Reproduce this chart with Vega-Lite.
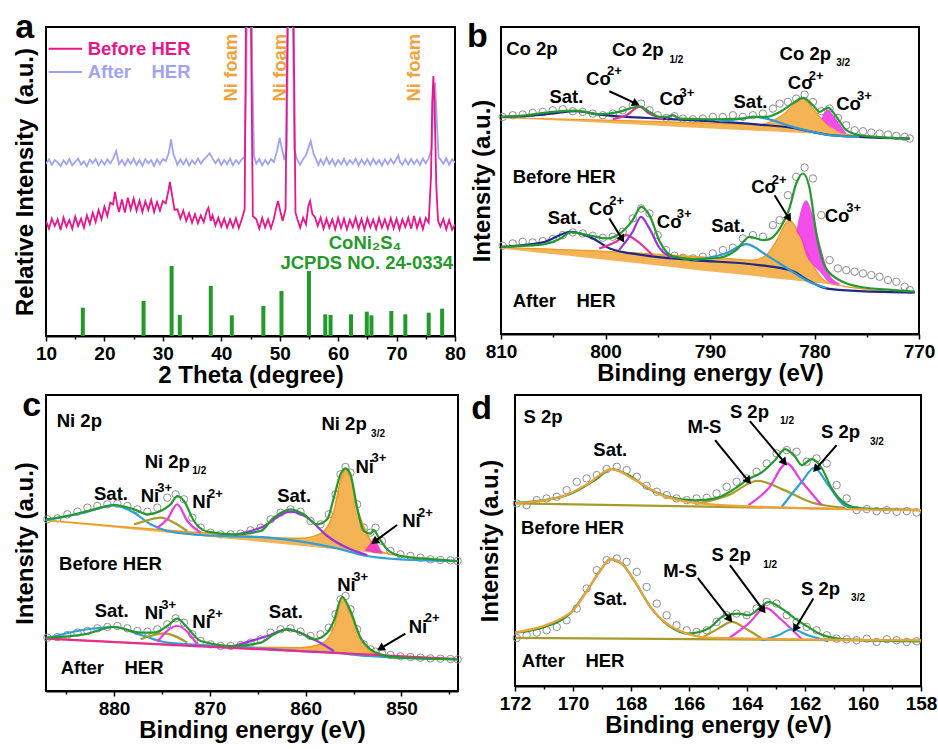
{
"$schema":"https://vega.github.io/schema/vega-lite/v6.json",
"background":"white",
"padding":{"left":12,"top":9,"right":0,"bottom":0},
"config":{"font":"Liberation Sans","view":{"stroke":"black","strokeWidth":2},
"axis":{"labelFont":"Liberation Sans","titleFont":"Liberation Sans","labelFontWeight":"bold","titleFontWeight":"bold","labelFontSize":19,"titleFontSize":24,"labelColor":"black","titleColor":"black","domainColor":"black","domainWidth":2,"tickColor":"black","tickWidth":1.5,"grid":false,"labelFlush":false,"labelOverlap":false,"labelPadding":3,"titlePadding":0},
"text":{"font":"Liberation Sans","fontWeight":"bold","fontSize":18.5,"color":"black"}},
"datasets":{
"xrd":[
{"x":10,"y":517,"s":"A"},{"x":10.5,"y":530,"s":"A"},{"x":11,"y":513,"s":"A"},{"x":11.5,"y":528,"s":"A"},{"x":12,"y":521,"s":"A"},{"x":12.5,"y":510,"s":"A"},{"x":13,"y":527,"s":"A"},{"x":13.5,"y":515,"s":"A"},{"x":14,"y":531,"s":"A"},{"x":14.5,"y":512,"s":"A"},{"x":15,"y":522,"s":"A"},{"x":15.5,"y":532,"s":"A"},{"x":16,"y":514,"s":"A"},{"x":16.5,"y":524,"s":"A"},{"x":17,"y":509,"s":"A"},{"x":17.5,"y":529,"s":"A"},{"x":18,"y":518,"s":"A"},{"x":18.5,"y":531,"s":"A"},{"x":19,"y":512,"s":"A"},{"x":19.5,"y":527,"s":"A"},{"x":20,"y":514,"s":"A"},{"x":20.5,"y":530,"s":"A"},{"x":21,"y":518,"s":"A"},{"x":21.5,"y":532,"s":"A"},{"x":22,"y":555,"s":"A"},{"x":22.3,"y":533,"s":"A"},{"x":22.5,"y":516,"s":"A"},{"x":23,"y":528,"s":"A"},{"x":23.5,"y":512,"s":"A"},{"x":24,"y":530,"s":"A"},{"x":24.5,"y":516,"s":"A"},{"x":25,"y":532,"s":"A"},{"x":25.5,"y":513,"s":"A"},{"x":26,"y":528,"s":"A"},{"x":26.5,"y":511,"s":"A"},{"x":27,"y":531,"s":"A"},{"x":27.5,"y":518,"s":"A"},{"x":28,"y":528,"s":"A"},{"x":28.5,"y":510,"s":"A"},{"x":29,"y":530,"s":"A"},{"x":29.5,"y":516,"s":"A"},{"x":30,"y":531,"s":"A"},{"x":30.5,"y":525,"s":"A"},{"x":31,"y":548,"s":"A"},{"x":31.4,"y":590,"s":"A"},{"x":31.8,"y":545,"s":"A"},{"x":32.2,"y":528,"s":"A"},{"x":32.5,"y":513,"s":"A"},{"x":33,"y":530,"s":"A"},{"x":33.5,"y":515,"s":"A"},{"x":34,"y":531,"s":"A"},{"x":34.5,"y":511,"s":"A"},{"x":35,"y":527,"s":"A"},{"x":35.5,"y":516,"s":"A"},{"x":36,"y":532,"s":"A"},{"x":36.5,"y":517,"s":"A"},{"x":37,"y":529,"s":"A"},{"x":37.5,"y":538,"s":"A"},{"x":38,"y":548,"s":"A"},{"x":38.5,"y":533,"s":"A"},{"x":39,"y":518,"s":"A"},{"x":39.5,"y":531,"s":"A"},{"x":40,"y":513,"s":"A"},{"x":40.5,"y":528,"s":"A"},{"x":41,"y":515,"s":"A"},{"x":41.5,"y":532,"s":"A"},{"x":42,"y":512,"s":"A"},{"x":42.5,"y":528,"s":"A"},{"x":43,"y":517,"s":"A"},{"x":43.5,"y":530,"s":"A"},{"x":44,"y":538,"s":"A"},{"x":44.3,"y":800,"s":"A"},{"x":44.6,"y":1500,"s":"A"},{"x":45,"y":1500,"s":"A"},{"x":45.3,"y":800,"s":"A"},{"x":45.6,"y":540,"s":"A"},{"x":46,"y":517,"s":"A"},{"x":46.5,"y":531,"s":"A"},{"x":47,"y":512,"s":"A"},{"x":47.5,"y":528,"s":"A"},{"x":48,"y":515,"s":"A"},{"x":48.5,"y":531,"s":"A"},{"x":49,"y":522,"s":"A"},{"x":49.5,"y":552,"s":"A"},{"x":50,"y":594,"s":"A"},{"x":50.4,"y":560,"s":"A"},{"x":50.8,"y":528,"s":"A"},{"x":51.2,"y":562,"s":"A"},{"x":51.5,"y":1000,"s":"A"},{"x":51.9,"y":1500,"s":"A"},{"x":52.2,"y":1000,"s":"A"},{"x":52.5,"y":560,"s":"A"},{"x":53,"y":528,"s":"A"},{"x":53.5,"y":514,"s":"A"},{"x":54,"y":531,"s":"A"},{"x":54.5,"y":542,"s":"A"},{"x":55.3,"y":585,"s":"A"},{"x":55.8,"y":546,"s":"A"},{"x":56.3,"y":527,"s":"A"},{"x":56.6,"y":513,"s":"A"},{"x":57,"y":530,"s":"A"},{"x":57.5,"y":514,"s":"A"},{"x":58,"y":535,"s":"A"},{"x":58.5,"y":516,"s":"A"},{"x":59,"y":530,"s":"A"},{"x":59.5,"y":511,"s":"A"},{"x":60,"y":528,"s":"A"},{"x":60.5,"y":515,"s":"A"},{"x":61,"y":531,"s":"A"},{"x":61.5,"y":513,"s":"A"},{"x":62,"y":527,"s":"A"},{"x":62.5,"y":517,"s":"A"},{"x":63,"y":532,"s":"A"},{"x":63.5,"y":512,"s":"A"},{"x":64,"y":529,"s":"A"},{"x":64.5,"y":515,"s":"A"},{"x":65,"y":530,"s":"A"},{"x":65.5,"y":513,"s":"A"},{"x":66,"y":531,"s":"A"},{"x":66.5,"y":516,"s":"A"},{"x":67,"y":528,"s":"A"},{"x":67.5,"y":511,"s":"A"},{"x":68,"y":530,"s":"A"},{"x":68.5,"y":515,"s":"A"},{"x":69,"y":531,"s":"A"},{"x":69.5,"y":517,"s":"A"},{"x":70,"y":532,"s":"A"},{"x":70.3,"y":542,"s":"A"},{"x":70.6,"y":521,"s":"A"},{"x":71,"y":513,"s":"A"},{"x":71.5,"y":530,"s":"A"},{"x":72,"y":515,"s":"A"},{"x":72.5,"y":531,"s":"A"},{"x":73,"y":516,"s":"A"},{"x":73.5,"y":529,"s":"A"},{"x":74,"y":513,"s":"A"},{"x":74.5,"y":532,"s":"A"},{"x":75,"y":518,"s":"A"},{"x":75.5,"y":533,"s":"A"},{"x":76,"y":560,"s":"A"},{"x":76.3,"y":700,"s":"A"},{"x":76.6,"y":760,"s":"A"},{"x":76.9,"y":640,"s":"A"},{"x":77.2,"y":535,"s":"A"},{"x":77.5,"y":530,"s":"A"},{"x":78,"y":516,"s":"A"},{"x":78.5,"y":533,"s":"A"},{"x":79,"y":514,"s":"A"},{"x":79.5,"y":530,"s":"A"},{"x":80,"y":520,"s":"A"},
{"x":10,"y":345,"s":"B"},{"x":10.5,"y":322,"s":"B"},{"x":11,"y":352,"s":"B"},{"x":11.5,"y":330,"s":"B"},{"x":12,"y":350,"s":"B"},{"x":12.5,"y":318,"s":"B"},{"x":13,"y":355,"s":"B"},{"x":13.5,"y":328,"s":"B"},{"x":14,"y":348,"s":"B"},{"x":14.5,"y":322,"s":"B"},{"x":15,"y":358,"s":"B"},{"x":15.5,"y":330,"s":"B"},{"x":16,"y":352,"s":"B"},{"x":16.5,"y":325,"s":"B"},{"x":17,"y":362,"s":"B"},{"x":17.5,"y":336,"s":"B"},{"x":18,"y":370,"s":"B"},{"x":18.5,"y":342,"s":"B"},{"x":19,"y":378,"s":"B"},{"x":19.5,"y":350,"s":"B"},{"x":20,"y":388,"s":"B"},{"x":20.5,"y":360,"s":"B"},{"x":21,"y":400,"s":"B"},{"x":21.5,"y":395,"s":"B"},{"x":21.8,"y":432,"s":"B"},{"x":22.2,"y":392,"s":"B"},{"x":22.5,"y":372,"s":"B"},{"x":23,"y":410,"s":"B"},{"x":23.5,"y":370,"s":"B"},{"x":24,"y":415,"s":"B"},{"x":24.5,"y":380,"s":"B"},{"x":25,"y":412,"s":"B"},{"x":25.5,"y":376,"s":"B"},{"x":26,"y":406,"s":"B"},{"x":26.5,"y":372,"s":"B"},{"x":27,"y":404,"s":"B"},{"x":27.5,"y":378,"s":"B"},{"x":28,"y":408,"s":"B"},{"x":28.5,"y":372,"s":"B"},{"x":29,"y":402,"s":"B"},{"x":29.5,"y":376,"s":"B"},{"x":30,"y":405,"s":"B"},{"x":30.5,"y":398,"s":"B"},{"x":31,"y":440,"s":"B"},{"x":31.2,"y":462,"s":"B"},{"x":31.6,"y":420,"s":"B"},{"x":32,"y":378,"s":"B"},{"x":32.5,"y":380,"s":"B"},{"x":33,"y":352,"s":"B"},{"x":33.5,"y":376,"s":"B"},{"x":34,"y":345,"s":"B"},{"x":34.5,"y":368,"s":"B"},{"x":35,"y":340,"s":"B"},{"x":35.5,"y":365,"s":"B"},{"x":36,"y":338,"s":"B"},{"x":36.5,"y":362,"s":"B"},{"x":37,"y":342,"s":"B"},{"x":37.5,"y":375,"s":"B"},{"x":37.8,"y":385,"s":"B"},{"x":38.2,"y":345,"s":"B"},{"x":38.5,"y":362,"s":"B"},{"x":39,"y":332,"s":"B"},{"x":39.5,"y":355,"s":"B"},{"x":40,"y":328,"s":"B"},{"x":40.5,"y":352,"s":"B"},{"x":41,"y":325,"s":"B"},{"x":41.5,"y":350,"s":"B"},{"x":42,"y":326,"s":"B"},{"x":42.5,"y":353,"s":"B"},{"x":43,"y":324,"s":"B"},{"x":43.5,"y":350,"s":"B"},{"x":44,"y":380,"s":"B"},{"x":44.2,"y":900,"s":"B"},{"x":44.5,"y":1500,"s":"B"},{"x":44.8,"y":1500,"s":"B"},{"x":45.1,"y":900,"s":"B"},{"x":45.4,"y":360,"s":"B"},{"x":46,"y":350,"s":"B"},{"x":46.5,"y":322,"s":"B"},{"x":47,"y":354,"s":"B"},{"x":47.5,"y":326,"s":"B"},{"x":48,"y":350,"s":"B"},{"x":48.5,"y":323,"s":"B"},{"x":49,"y":352,"s":"B"},{"x":49.4,"y":385,"s":"B"},{"x":49.7,"y":405,"s":"B"},{"x":50.1,"y":375,"s":"B"},{"x":50.5,"y":345,"s":"B"},{"x":51,"y":380,"s":"B"},{"x":51.3,"y":900,"s":"B"},{"x":51.7,"y":1500,"s":"B"},{"x":52.1,"y":1500,"s":"B"},{"x":52.4,"y":900,"s":"B"},{"x":52.7,"y":370,"s":"B"},{"x":53,"y":352,"s":"B"},{"x":53.5,"y":325,"s":"B"},{"x":54,"y":355,"s":"B"},{"x":54.5,"y":335,"s":"B"},{"x":54.9,"y":390,"s":"B"},{"x":55.2,"y":405,"s":"B"},{"x":55.6,"y":365,"s":"B"},{"x":56,"y":358,"s":"B"},{"x":56.5,"y":330,"s":"B"},{"x":57,"y":355,"s":"B"},{"x":57.5,"y":322,"s":"B"},{"x":58,"y":352,"s":"B"},{"x":58.5,"y":325,"s":"B"},{"x":59,"y":350,"s":"B"},{"x":59.5,"y":320,"s":"B"},{"x":60,"y":354,"s":"B"},{"x":60.5,"y":324,"s":"B"},{"x":61,"y":352,"s":"B"},{"x":61.5,"y":320,"s":"B"},{"x":62,"y":348,"s":"B"},{"x":62.5,"y":327,"s":"B"},{"x":63,"y":355,"s":"B"},{"x":63.5,"y":322,"s":"B"},{"x":64,"y":351,"s":"B"},{"x":64.5,"y":319,"s":"B"},{"x":65,"y":353,"s":"B"},{"x":65.5,"y":326,"s":"B"},{"x":66,"y":349,"s":"B"},{"x":66.5,"y":321,"s":"B"},{"x":67,"y":354,"s":"B"},{"x":67.5,"y":325,"s":"B"},{"x":68,"y":350,"s":"B"},{"x":68.5,"y":322,"s":"B"},{"x":69,"y":353,"s":"B"},{"x":69.5,"y":323,"s":"B"},{"x":70,"y":352,"s":"B"},{"x":70.5,"y":320,"s":"B"},{"x":71,"y":350,"s":"B"},{"x":71.5,"y":327,"s":"B"},{"x":72,"y":355,"s":"B"},{"x":72.5,"y":322,"s":"B"},{"x":73,"y":360,"s":"B"},{"x":73.5,"y":324,"s":"B"},{"x":74,"y":352,"s":"B"},{"x":74.5,"y":321,"s":"B"},{"x":75,"y":354,"s":"B"},{"x":75.5,"y":340,"s":"B"},{"x":75.9,"y":480,"s":"B"},{"x":76.1,"y":700,"s":"B"},{"x":76.3,"y":780,"s":"B"},{"x":76.5,"y":700,"s":"B"},{"x":76.8,"y":450,"s":"B"},{"x":77.1,"y":345,"s":"B"},{"x":77.5,"y":328,"s":"B"},{"x":78,"y":351,"s":"B"},{"x":78.5,"y":320,"s":"B"},{"x":79,"y":348,"s":"B"},{"x":79.5,"y":319,"s":"B"},{"x":80,"y":335,"s":"B"}
],
"bars":[{"x":16.3,"y":85},{"x":26.7,"y":105},{"x":31.5,"y":210},{"x":32.9,"y":63},{"x":38.2,"y":150},{"x":41.8,"y":62},{"x":47.2,"y":90},{"x":50.3,"y":135},{"x":55.0,"y":195},{"x":57.8,"y":65},{"x":58.7,"y":63},{"x":62.2,"y":65},{"x":64.9,"y":73},{"x":65.7,"y":62},{"x":69.1,"y":75},{"x":71.5,"y":65},{"x":75.5,"y":70},{"x":77.8,"y":82}],
"b_pts":[
{"x":809.84,"y":655},{"x":808.88,"y":660},{"x":807.92,"y":662},{"x":806.97,"y":667},{"x":806.01,"y":670},{"x":805.05,"y":675},{"x":804.09,"y":678},{"x":803.13,"y":672},{"x":802.18,"y":670},{"x":801.22,"y":665},{"x":800.26,"y":660},{"x":799.31,"y":665},{"x":798.35,"y":675},{"x":797.39,"y":690},{"x":796.59,"y":695},{"x":795.79,"y":675},{"x":795.0,"y":660},{"x":794.2,"y":652},{"x":793.4,"y":657},{"x":792.6,"y":650},{"x":791.64,"y":648},{"x":790.69,"y":650},{"x":789.73,"y":655},{"x":788.77,"y":655},{"x":787.81,"y":660},{"x":786.86,"y":655},{"x":785.9,"y":660},{"x":784.94,"y":665},{"x":783.98,"y":680},{"x":783.34,"y":695},{"x":782.55,"y":700},{"x":781.75,"y":710},{"x":780.95,"y":722},{"x":780.15,"y":700},{"x":779.35,"y":672},{"x":778.56,"y":680},{"x":777.76,"y":652},{"x":776.96,"y":630},{"x":776.16,"y":615},{"x":775.36,"y":612},{"x":774.56,"y":608},{"x":773.77,"y":605},{"x":772.97,"y":602},{"x":772.17,"y":598},{"x":771.37,"y":595},{"x":770.89,"y":590},
{"x":809.84,"y":268},{"x":808.88,"y":275},{"x":807.92,"y":280},{"x":806.97,"y":278},{"x":806.01,"y":282},{"x":805.05,"y":288},{"x":804.09,"y":300},{"x":803.13,"y":308},{"x":802.18,"y":305},{"x":801.22,"y":298},{"x":800.26,"y":292},{"x":799.31,"y":295},{"x":798.35,"y":310},{"x":797.39,"y":350},{"x":796.59,"y":380},{"x":795.79,"y":365},{"x":795.0,"y":300},{"x":794.2,"y":255},{"x":793.4,"y":238},{"x":792.6,"y":232},{"x":791.64,"y":230},{"x":790.69,"y":235},{"x":789.73,"y":245},{"x":788.77,"y":255},{"x":787.81,"y":262},{"x":786.86,"y":290},{"x":785.9,"y":300},{"x":784.94,"y":295},{"x":783.98,"y":330},{"x":783.34,"y":345},{"x":782.55,"y":420},{"x":781.75,"y":475},{"x":780.95,"y":503},{"x":780.15,"y":470},{"x":779.35,"y":360},{"x":778.56,"y":225},{"x":777.76,"y":200},{"x":776.96,"y":195},{"x":776.16,"y":190},{"x":775.36,"y":185},{"x":774.56,"y":180},{"x":773.77,"y":175},{"x":772.97,"y":165},{"x":772.17,"y":160},{"x":771.37,"y":145},{"x":770.89,"y":135}
],
"b_orange":[
{"x":810,"y":653,"y2":653,"s":"t"},{"x":798.0,"y":644,"y2":634,"s":"t"},{"x":788.5,"y":635,"y2":618,"s":"t"},{"x":785.3,"y":632,"y2":613,"s":"t"},{"x":783.7,"y":648,"y2":611,"s":"t"},{"x":782.7,"y":670,"y2":609,"s":"t"},{"x":782.1,"y":688,"y2":608,"s":"t"},{"x":781.1,"y":710,"y2":606.5,"s":"t"},{"x":780.15,"y":680,"y2":605,"s":"t"},{"x":779.35,"y":650,"y2":604,"s":"t"},{"x":778.56,"y":625,"y2":602,"s":"t"},{"x":777.3,"y":605,"y2":600,"s":"t"},{"x":775.7,"y":598,"y2":598,"s":"t"},{"x":770.9,"y":590,"y2":590,"s":"t"},
{"x":810,"y":263,"y2":260,"s":"b"},{"x":798.0,"y":248,"y2":219,"s":"b"},{"x":788.5,"y":230,"y2":186,"s":"b"},{"x":785.9,"y":225,"y2":178,"s":"b"},{"x":784.6,"y":240,"y2":173,"s":"b"},{"x":783.7,"y":280,"y2":170,"s":"b"},{"x":782.4,"y":345,"y2":166,"s":"b"},{"x":781.4,"y":300,"y2":162,"s":"b"},{"x":780.15,"y":210,"y2":158,"s":"b"},{"x":778.9,"y":160,"y2":154,"s":"b"},{"x":777.3,"y":147,"y2":147,"s":"b"},{"x":770.4,"y":127,"y2":125,"s":"b"}
],
"b_mag":[
{"x":779.35,"y":650,"y2":650,"s":"t"},{"x":779.0,"y":670,"y2":638,"s":"t"},{"x":778.7,"y":678,"y2":630,"s":"t"},{"x":778.2,"y":660,"y2":620,"s":"t"},{"x":777.5,"y":630,"y2":608,"s":"t"},{"x":776.95,"y":605,"y2":603,"s":"t"},
{"x":781.75,"y":310,"y2":310,"s":"b"},{"x":781.25,"y":380,"y2":285,"s":"b"},{"x":780.8,"y":405,"y2":240,"s":"b"},{"x":780.15,"y":360,"y2":210,"s":"b"},{"x":779.35,"y":260,"y2":185,"s":"b"},{"x":778.6,"y":185,"y2":158,"s":"b"},{"x":777.6,"y":155,"y2":150,"s":"b"}
],
"b_lines":[
{"x":810,"y":655,"c":"bg","s":"t"},{"x":806.0,"y":662,"c":"bg","s":"t"},{"x":804.4,"y":668,"c":"bg","s":"t"},{"x":802.8,"y":672,"c":"bg","s":"t"},{"x":800.6,"y":662,"c":"bg","s":"t"},{"x":798.0,"y":655,"c":"bg","s":"t"},{"x":794.8,"y":650,"c":"bg","s":"t"},{"x":790.0,"y":642,"c":"bg","s":"t"},{"x":785.3,"y":632,"c":"bg","s":"t"},{"x":782.1,"y":622,"c":"bg","s":"t"},{"x":780.5,"y":612,"c":"bg","s":"t"},{"x":778.9,"y":602,"c":"bg","s":"t"},{"x":775.7,"y":595,"c":"bg","s":"t"},{"x":770.9,"y":590,"c":"bg","s":"t"},
{"x":799.3,"y":648,"c":"pink","s":"t"},{"x":798.0,"y":660,"c":"pink","s":"t"},{"x":796.75,"y":685,"c":"pink","s":"t"},{"x":795.8,"y":665,"c":"pink","s":"t"},{"x":794.5,"y":648,"c":"pink","s":"t"},
{"x":794.2,"y":648,"c":"purple","s":"t"},{"x":793.6,"y":660,"c":"purple","s":"t"},{"x":792.9,"y":648,"c":"purple","s":"t"},
{"x":789.1,"y":642,"c":"blue","s":"t"},{"x":786.9,"y":650,"c":"blue","s":"t"},{"x":785.9,"y":655,"c":"blue","s":"t"},{"x":784.6,"y":650,"c":"blue","s":"t"},{"x":782.1,"y":625,"c":"blue","s":"t"},{"x":778.9,"y":602,"c":"blue","s":"t"},{"x":775.7,"y":595,"c":"blue","s":"t"},
{"x":810,"y":655,"c":"env","s":"t"},{"x":807.6,"y":660,"c":"env","s":"t"},{"x":805.05,"y":670,"c":"env","s":"t"},{"x":802.8,"y":674,"c":"env","s":"t"},{"x":800.6,"y":663,"c":"env","s":"t"},{"x":798.7,"y":670,"c":"env","s":"t"},{"x":797.7,"y":680,"c":"env","s":"t"},{"x":796.75,"y":687,"c":"env","s":"t"},{"x":795.8,"y":670,"c":"env","s":"t"},{"x":794.8,"y":655,"c":"env","s":"t"},{"x":794.0,"y":655,"c":"env","s":"t"},{"x":793.6,"y":660,"c":"env","s":"t"},{"x":792.9,"y":650,"c":"env","s":"t"},{"x":790.0,"y":648,"c":"env","s":"t"},{"x":786.9,"y":650,"c":"env","s":"t"},{"x":785.9,"y":655,"c":"env","s":"t"},{"x":784.6,"y":655,"c":"env","s":"t"},{"x":783.3,"y":670,"c":"env","s":"t"},{"x":782.1,"y":695,"c":"env","s":"t"},{"x":781.1,"y":712,"c":"env","s":"t"},{"x":780.15,"y":690,"c":"env","s":"t"},{"x":779.5,"y":670,"c":"env","s":"t"},{"x":778.7,"y":683,"c":"env","s":"t"},{"x":777.9,"y":655,"c":"env","s":"t"},{"x":776.95,"y":615,"c":"env","s":"t"},{"x":775.7,"y":600,"c":"env","s":"t"},{"x":774.1,"y":595,"c":"env","s":"t"},{"x":770.9,"y":590,"c":"env","s":"t"},
{"x":810,"y":265,"c":"bg","s":"b"},{"x":806.0,"y":278,"c":"bg","s":"b"},{"x":803.3,"y":310,"c":"bg","s":"b"},{"x":801.2,"y":290,"c":"bg","s":"b"},{"x":799.6,"y":260,"c":"bg","s":"b"},{"x":796.4,"y":240,"c":"bg","s":"b"},{"x":791.6,"y":225,"c":"bg","s":"b"},{"x":785.3,"y":210,"c":"bg","s":"b"},{"x":782.1,"y":192,"c":"bg","s":"b"},{"x":780.5,"y":162,"c":"bg","s":"b"},{"x":778.9,"y":140,"c":"bg","s":"b"},{"x":775.7,"y":132,"c":"bg","s":"b"},{"x":770.4,"y":128,"c":"bg","s":"b"},
{"x":800.6,"y":260,"c":"pink","s":"b"},{"x":799.0,"y":280,"c":"pink","s":"b"},{"x":798.0,"y":300,"c":"pink","s":"b"},{"x":797.1,"y":285,"c":"pink","s":"b"},{"x":795.5,"y":240,"c":"pink","s":"b"},
{"x":798.7,"y":255,"c":"purple","s":"b"},{"x":797.4,"y":310,"c":"purple","s":"b"},{"x":796.6,"y":355,"c":"purple","s":"b"},{"x":795.8,"y":320,"c":"purple","s":"b"},{"x":794.8,"y":260,"c":"purple","s":"b"},{"x":793.6,"y":232,"c":"purple","s":"b"},
{"x":791.6,"y":225,"c":"blue","s":"b"},{"x":788.5,"y":245,"c":"blue","s":"b"},{"x":786.5,"y":273,"c":"blue","s":"b"},{"x":784.6,"y":240,"c":"blue","s":"b"},{"x":782.1,"y":190,"c":"blue","s":"b"},{"x":780.5,"y":160,"c":"blue","s":"b"},{"x":778.9,"y":142,"c":"blue","s":"b"},
{"x":810,"y":265,"c":"env","s":"b"},{"x":806.0,"y":272,"c":"env","s":"b"},{"x":804.4,"y":288,"c":"env","s":"b"},{"x":803.3,"y":308,"c":"env","s":"b"},{"x":801.2,"y":297,"c":"env","s":"b"},{"x":799.9,"y":290,"c":"env","s":"b"},{"x":798.7,"y":303,"c":"env","s":"b"},{"x":797.4,"y":345,"c":"env","s":"b"},{"x":796.6,"y":385,"c":"env","s":"b"},{"x":795.8,"y":360,"c":"env","s":"b"},{"x":794.8,"y":280,"c":"env","s":"b"},{"x":793.6,"y":237,"c":"env","s":"b"},{"x":791.6,"y":228,"c":"env","s":"b"},{"x":789.1,"y":232,"c":"env","s":"b"},{"x":787.5,"y":255,"c":"env","s":"b"},{"x":786.2,"y":295,"c":"env","s":"b"},{"x":784.9,"y":285,"c":"env","s":"b"},{"x":784.3,"y":288,"c":"env","s":"b"},{"x":783.3,"y":320,"c":"env","s":"b"},{"x":782.4,"y":380,"c":"env","s":"b"},{"x":781.75,"y":455,"c":"env","s":"b"},{"x":781.1,"y":485,"c":"env","s":"b"},{"x":780.5,"y":445,"c":"env","s":"b"},{"x":779.8,"y":300,"c":"env","s":"b"},{"x":778.9,"y":200,"c":"env","s":"b"},{"x":777.3,"y":160,"c":"env","s":"b"},{"x":775.7,"y":145,"c":"env","s":"b"},{"x":772.5,"y":135,"c":"env","s":"b"},{"x":770.4,"y":130,"c":"env","s":"b"}
],
"b_txt":[{"x":809.5,"y":860,"t":"Co 2p"},{"x":799.37,"y":855,"t":"Co 2p"},{"x":783.34,"y":845,"t":"Co 2p"},{"x":801.86,"y":770,"t":"Co"},{"x":805.37,"y":715,"t":"Sat."},{"x":794.84,"y":708,"t":"Co"},{"x":787.75,"y":700,"t":"Sat."},{"x":782.55,"y":757,"t":"Co"},{"x":777.92,"y":695,"t":"Co"},{"x":808.88,"y":475,"t":"Before HER"},{"x":805.53,"y":350,"t":"Sat."},{"x":801.6,"y":378,"t":"Co"},{"x":795.09,"y":340,"t":"Co"},{"x":789.89,"y":328,"t":"Sat."},{"x":786.06,"y":445,"t":"Co"},{"x":779.03,"y":358,"t":"Co"},{"x":808.88,"y":103,"t":"After\u00a0\u00a0\u00a0\u00a0HER"}],
"b_sup":[{"x":799.85,"y":792,"t":"2+"},{"x":792.92,"y":728,"t":"3+"},{"x":780.54,"y":778,"t":"2+"},{"x":775.94,"y":717,"t":"3+"},{"x":799.63,"y":402,"t":"2+"},{"x":793.18,"y":363,"t":"3+"},{"x":784.08,"y":467,"t":"2+"},{"x":776.96,"y":380,"t":"3+"}],
"b_sub":[{"x":793.88,"y":825,"t":"1/2"},{"x":777.92,"y":817,"t":"3/2"}],
"b_arr":[{"x":799.63,"y":732,"x2":797.07,"y2":695},{"x":799.63,"y":350,"x2":798.41,"y2":288},{"x":783.82,"y":420,"x2":782.45,"y2":350}],
"b_head":[{"x":797.07,"y":695,"dir":114.8},{"x":798.41,"y":288,"dir":148.5},{"x":782.45,"y":350,"dir":148.4}],
"c_pts":[
{"x":886.95,"y":585},{"x":885.91,"y":588},{"x":884.87,"y":600},{"x":883.82,"y":608},{"x":882.78,"y":620},{"x":881.74,"y":625},{"x":880.70,"y":630},{"x":879.65,"y":632},{"x":878.61,"y":625},{"x":877.57,"y":615},{"x":876.52,"y":608},{"x":875.48,"y":620},{"x":874.44,"y":650},{"x":873.57,"y":660},{"x":872.70,"y":645},{"x":871.83,"y":590},{"x":870.96,"y":560},{"x":869.92,"y":545},{"x":868.88,"y":540},{"x":867.83,"y":540},{"x":866.79,"y":542},{"x":865.75,"y":552},{"x":864.71,"y":560},{"x":863.66,"y":585},{"x":862.62,"y":605},{"x":861.58,"y":615},{"x":860.54,"y":608},{"x":859.49,"y":580},{"x":858.45,"y":570},{"x":857.58,"y":600},{"x":856.89,"y":660},{"x":856.36,"y":720},{"x":855.84,"y":742},{"x":855.32,"y":725},{"x":854.63,"y":630},{"x":853.93,"y":560},{"x":853.24,"y":545},{"x":852.71,"y":560},{"x":852.02,"y":520},{"x":851.15,"y":490},{"x":850.11,"y":480},{"x":849.07,"y":475},{"x":848.02,"y":470},{"x":846.98,"y":465},{"x":845.94,"y":463},{"x":844.89,"y":462},{"x":844.13,"y":460},
{"x":886.95,"y":230},{"x":885.91,"y":232},{"x":884.87,"y":238},{"x":883.82,"y":245},{"x":882.78,"y":250},{"x":881.74,"y":258},{"x":880.70,"y":262},{"x":879.65,"y":265},{"x":878.61,"y":258},{"x":877.57,"y":250},{"x":876.52,"y":248},{"x":875.48,"y":255},{"x":874.44,"y":270},{"x":873.57,"y":288},{"x":872.70,"y":275},{"x":871.83,"y":240},{"x":870.96,"y":220},{"x":869.92,"y":210},{"x":868.88,"y":205},{"x":867.83,"y":205},{"x":866.79,"y":208},{"x":865.75,"y":215},{"x":864.71,"y":225},{"x":863.66,"y":245},{"x":862.62,"y":255},{"x":861.58,"y":258},{"x":860.54,"y":248},{"x":859.49,"y":235},{"x":858.45,"y":240},{"x":857.58,"y":260},{"x":856.89,"y":300},{"x":856.36,"y":345},{"x":855.84,"y":355},{"x":855.32,"y":315},{"x":854.63,"y":255},{"x":853.93,"y":210},{"x":853.24,"y":195},{"x":852.71,"y":188},{"x":852.02,"y":182},{"x":851.15,"y":178},{"x":850.11,"y":174},{"x":849.07,"y":172},{"x":848.02,"y":170},{"x":846.98,"y":168},{"x":845.94,"y":167},{"x":844.89,"y":166},{"x":844.13,"y":165}
],
"c_orange":[
{"x":887.13,"y":582,"y2":580,"s":"t"},{"x":870.96,"y":545,"y2":535,"s":"t"},{"x":860.54,"y":528,"y2":506,"s":"t"},{"x":858.45,"y":542,"y2":500,"s":"t"},{"x":857.06,"y":610,"y2":496,"s":"t"},{"x":856.36,"y":700,"y2":494,"s":"t"},{"x":855.84,"y":735,"y2":493,"s":"t"},{"x":855.32,"y":710,"y2":491,"s":"t"},{"x":854.63,"y":620,"y2":489,"s":"t"},{"x":853.58,"y":540,"y2":486,"s":"t"},{"x":852.54,"y":495,"y2":483,"s":"t"},{"x":851.15,"y":480,"y2":480,"s":"t"},{"x":844.13,"y":460,"y2":460,"s":"t"},
{"x":887.13,"y":228,"y2":226,"s":"b"},{"x":860.54,"y":200,"y2":188,"s":"b"},{"x":858.45,"y":210,"y2":185,"s":"b"},{"x":857.06,"y":260,"y2":183,"s":"b"},{"x":856.19,"y":350,"y2":182,"s":"b"},{"x":855.32,"y":300,"y2":181,"s":"b"},{"x":854.28,"y":230,"y2":179,"s":"b"},{"x":853.24,"y":190,"y2":178,"s":"b"},{"x":852.19,"y":178,"y2":176,"s":"b"}
],
"c_mag":[{"x":853.76,"y":495,"y2":490},{"x":853.24,"y":515,"y2":488},{"x":852.89,"y":530,"y2":485},{"x":852.37,"y":505,"y2":483},{"x":852.02,"y":485,"y2":482}],
"c_lines":[
{"x":887.13,"y":582,"c":"blue","s":"t"},{"x":883.13,"y":605,"c":"blue","s":"t"},{"x":880.0,"y":627,"c":"blue","s":"t"},{"x":877.91,"y":605,"c":"blue","s":"t"},{"x":876.18,"y":570,"c":"blue","s":"t"},{"x":874.44,"y":550,"c":"blue","s":"t"},{"x":870.96,"y":538,"c":"blue","s":"t"},{"x":864.01,"y":530,"c":"blue","s":"t"},{"x":857.06,"y":500,"c":"blue","s":"t"},{"x":853.58,"y":475,"c":"blue","s":"t"},{"x":850.11,"y":465,"c":"blue","s":"t"},{"x":844.13,"y":460,"c":"blue","s":"t"},
{"x":867.49,"y":538,"c":"purple","s":"t"},{"x":864.71,"y":560,"c":"purple","s":"t"},{"x":861.58,"y":608,"c":"purple","s":"t"},{"x":859.84,"y":590,"c":"purple","s":"t"},{"x":857.75,"y":535,"c":"purple","s":"t"},{"x":855.32,"y":495,"c":"purple","s":"t"},{"x":853.58,"y":478,"c":"purple","s":"t"},
{"x":877.91,"y":570,"c":"olive","s":"t"},{"x":876.52,"y":582,"c":"olive","s":"t"},{"x":875.13,"y":590,"c":"olive","s":"t"},{"x":873.74,"y":575,"c":"olive","s":"t"},{"x":872.35,"y":550,"c":"olive","s":"t"},
{"x":875.48,"y":560,"c":"magenta","s":"t"},{"x":874.44,"y":585,"c":"magenta","s":"t"},{"x":873.40,"y":630,"c":"magenta","s":"t"},{"x":872.35,"y":580,"c":"magenta","s":"t"},{"x":870.96,"y":545,"c":"magenta","s":"t"},
{"x":887.13,"y":585,"c":"env","s":"t"},{"x":884.87,"y":595,"c":"env","s":"t"},{"x":882.09,"y":615,"c":"env","s":"t"},{"x":880.0,"y":628,"c":"env","s":"t"},{"x":877.91,"y":615,"c":"env","s":"t"},{"x":876.52,"y":600,"c":"env","s":"t"},{"x":875.13,"y":610,"c":"env","s":"t"},{"x":874.09,"y":630,"c":"env","s":"t"},{"x":873.40,"y":655,"c":"env","s":"t"},{"x":872.70,"y":640,"c":"env","s":"t"},{"x":871.66,"y":580,"c":"env","s":"t"},{"x":870.27,"y":548,"c":"env","s":"t"},{"x":867.49,"y":540,"c":"env","s":"t"},{"x":864.71,"y":550,"c":"env","s":"t"},{"x":863.32,"y":590,"c":"env","s":"t"},{"x":861.58,"y":615,"c":"env","s":"t"},{"x":860.19,"y":600,"c":"env","s":"t"},{"x":858.80,"y":570,"c":"env","s":"t"},{"x":857.75,"y":585,"c":"env","s":"t"},{"x":857.06,"y":650,"c":"env","s":"t"},{"x":856.36,"y":720,"c":"env","s":"t"},{"x":855.84,"y":738,"c":"env","s":"t"},{"x":855.32,"y":720,"c":"env","s":"t"},{"x":854.63,"y":620,"c":"env","s":"t"},{"x":853.93,"y":550,"c":"env","s":"t"},{"x":853.24,"y":542,"c":"env","s":"t"},{"x":852.89,"y":553,"c":"env","s":"t"},{"x":852.37,"y":530,"c":"env","s":"t"},{"x":851.50,"y":495,"c":"env","s":"t"},{"x":850.11,"y":475,"c":"env","s":"t"},{"x":846.63,"y":465,"c":"env","s":"t"},{"x":844.13,"y":460,"c":"env","s":"t"},
{"x":887.13,"y":228,"c":"blue","s":"b"},{"x":880.0,"y":262,"c":"blue","s":"b"},{"x":877.22,"y":238,"c":"blue","s":"b"},{"x":874.44,"y":215,"c":"blue","s":"b"},{"x":867.49,"y":203,"c":"blue","s":"b"},{"x":860.54,"y":190,"c":"blue","s":"b"},{"x":857.06,"y":185,"c":"blue","s":"b"},{"x":853.58,"y":175,"c":"blue","s":"b"},{"x":844.13,"y":165,"c":"blue","s":"b"},
{"x":887.13,"y":227,"c":"pinkbase","s":"b"},{"x":844.13,"y":166,"c":"pinkbase","s":"b"},
{"x":867.49,"y":205,"c":"purple","s":"b"},{"x":864.01,"y":235,"c":"purple","s":"b"},{"x":861.93,"y":255,"c":"purple","s":"b"},{"x":859.84,"y":235,"c":"purple","s":"b"},{"x":857.06,"y":190,"c":"purple","s":"b"},
{"x":877.22,"y":225,"c":"olive","s":"b"},{"x":874.79,"y":243,"c":"olive","s":"b"},{"x":872.35,"y":215,"c":"olive","s":"b"},
{"x":875.48,"y":218,"c":"magenta","s":"b"},{"x":873.40,"y":265,"c":"magenta","s":"b"},{"x":871.31,"y":210,"c":"magenta","s":"b"},
{"x":887.13,"y":230,"c":"env","s":"b"},{"x":883.13,"y":240,"c":"env","s":"b"},{"x":880.0,"y":262,"c":"env","s":"b"},{"x":877.22,"y":245,"c":"env","s":"b"},{"x":875.83,"y":245,"c":"env","s":"b"},{"x":874.44,"y":265,"c":"env","s":"b"},{"x":873.40,"y":287,"c":"env","s":"b"},{"x":872.35,"y":260,"c":"env","s":"b"},{"x":870.96,"y":220,"c":"env","s":"b"},{"x":867.49,"y":205,"c":"env","s":"b"},{"x":864.71,"y":215,"c":"env","s":"b"},{"x":863.32,"y":240,"c":"env","s":"b"},{"x":861.93,"y":255,"c":"env","s":"b"},{"x":860.54,"y":245,"c":"env","s":"b"},{"x":859.15,"y":225,"c":"env","s":"b"},{"x":857.75,"y":245,"c":"env","s":"b"},{"x":857.06,"y":280,"c":"env","s":"b"},{"x":856.19,"y":352,"c":"env","s":"b"},{"x":855.32,"y":310,"c":"env","s":"b"},{"x":854.28,"y":230,"c":"env","s":"b"},{"x":853.24,"y":195,"c":"env","s":"b"},{"x":852.19,"y":180,"c":"env","s":"b"},{"x":850.11,"y":170,"c":"env","s":"b"},{"x":844.13,"y":165,"c":"env","s":"b"}
],
"c_txt":[{"x":885.98,"y":880,"t":"Ni 2p"},{"x":858.35,"y":870,"t":"Ni 2p"},{"x":876.80,"y":758,"t":"Ni 2p"},{"x":854.80,"y":742,"t":"Ni"},{"x":882.09,"y":660,"t":"Sat."},{"x":877.22,"y":655,"t":"Ni"},{"x":871.83,"y":638,"t":"Ni"},{"x":862.97,"y":655,"t":"Sat."},{"x":849.93,"y":580,"t":"Ni"},{"x":885.74,"y":450,"t":"Before HER"},{"x":856.71,"y":388,"t":"Ni"},{"x":882.02,"y":310,"t":"Sat."},{"x":876.80,"y":303,"t":"Ni"},{"x":871.83,"y":278,"t":"Ni"},{"x":863.84,"y":307,"t":"Sat."},{"x":849.24,"y":263,"t":"Ni"},{"x":885.56,"y":138,"t":"After\u00a0\u00a0\u00a0\u00a0HER"}],
"c_sup":[{"x":853.13,"y":768,"t":"3+"},{"x":875.48,"y":680,"t":"3+"},{"x":870.20,"y":660,"t":"2+"},{"x":848.27,"y":603,"t":"2+"},{"x":855.04,"y":412,"t":"3+"},{"x":875.06,"y":327,"t":"3+"},{"x":870.20,"y":300,"t":"2+"},{"x":847.57,"y":288,"t":"2+"}],
"c_sub":[{"x":853.17,"y":842,"t":"3/2"},{"x":871.83,"y":730,"t":"1/2"}],
"c_arr":[{"x":850.46,"y":568,"x2":852.82,"y2":518},{"x":849.59,"y":242,"x2":852.19,"y2":198}],
"c_head":[{"x":852.82,"y":518,"dir":233.7},{"x":852.19,"y":198,"dir":239.6}],
"d_pts":[
{"x":171.94,"y":635},{"x":171.60,"y":630},{"x":171.25,"y":645},{"x":170.91,"y":650},{"x":170.56,"y":655},{"x":170.22,"y":675},{"x":169.87,"y":700},{"x":169.53,"y":710},{"x":169.18,"y":720},{"x":168.84,"y":738},{"x":168.49,"y":745},{"x":168.15,"y":735},{"x":167.80,"y":715},{"x":167.46,"y":688},{"x":167.11,"y":670},{"x":166.77,"y":660},{"x":166.43,"y":650},{"x":166.08,"y":645},{"x":165.74,"y":650},{"x":165.39,"y":652},{"x":165.05,"y":665},{"x":164.70,"y":685},{"x":164.36,"y":700},{"x":164.01,"y":710},{"x":163.67,"y":730},{"x":163.32,"y":755},{"x":162.98,"y":785},{"x":162.63,"y":795},{"x":162.29,"y":790},{"x":161.94,"y":760},{"x":161.60,"y":770},{"x":161.25,"y":755},{"x":160.91,"y":690},{"x":160.56,"y":650},{"x":160.22,"y":615},{"x":159.87,"y":618},{"x":159.53,"y":612},{"x":159.18,"y":615},{"x":158.84,"y":610},{"x":158.49,"y":612},{"x":158.15,"y":608},
{"x":171.94,"y":232},{"x":171.60,"y":240},{"x":171.25,"y":248},{"x":170.91,"y":255},{"x":170.56,"y":265},{"x":170.22,"y":285},{"x":169.87,"y":320},{"x":169.53,"y":380},{"x":169.18,"y":435},{"x":168.84,"y":465},{"x":168.49,"y":470},{"x":168.15,"y":460},{"x":167.80,"y":430},{"x":167.46,"y":385},{"x":167.11,"y":335},{"x":166.77,"y":300},{"x":166.43,"y":270},{"x":166.08,"y":255},{"x":165.74,"y":250},{"x":165.39,"y":255},{"x":165.05,"y":280},{"x":164.70,"y":300},{"x":164.36,"y":305},{"x":164.01,"y":300},{"x":163.67,"y":320},{"x":163.32,"y":340},{"x":162.98,"y":335},{"x":162.63,"y":300},{"x":162.29,"y":280},{"x":161.94,"y":265},{"x":161.60,"y":255},{"x":161.25,"y":240},{"x":160.91,"y":230},{"x":160.56,"y":228},{"x":160.22,"y":225},{"x":159.87,"y":230},{"x":159.53,"y":220},{"x":159.18,"y":228},{"x":158.84,"y":225},{"x":158.49,"y":220},{"x":158.15,"y":222}
],
"d_lines":[
{"x":172,"y":635,"c":"olivebase","s":"t"},{"x":158,"y":615,"c":"olivebase","s":"t"},
{"x":172,"y":232,"c":"olivebase","s":"b"},{"x":158,"y":224,"c":"olivebase","s":"b"},
{"x":165.79,"y":633,"c":"olive","s":"t"},{"x":164.64,"y":660,"c":"olive","s":"t"},{"x":163.63,"y":703,"c":"olive","s":"t"},{"x":162.80,"y":678,"c":"olive","s":"t"},{"x":161.77,"y":638,"c":"olive","s":"t"},{"x":160.62,"y":622,"c":"olive","s":"t"},
{"x":163.95,"y":630,"c":"magenta","s":"t"},{"x":163.26,"y":680,"c":"magenta","s":"t"},{"x":162.63,"y":755,"c":"magenta","s":"t"},{"x":162.11,"y":700,"c":"magenta","s":"t"},{"x":161.43,"y":630,"c":"magenta","s":"t"},
{"x":162.80,"y":625,"c":"blue","s":"t"},{"x":162.11,"y":700,"c":"blue","s":"t"},{"x":161.68,"y":742,"c":"blue","s":"t"},{"x":161.20,"y":690,"c":"blue","s":"t"},{"x":160.62,"y":628,"c":"blue","s":"t"},{"x":160.05,"y":617,"c":"blue","s":"t"},
{"x":172,"y":637,"c":"env","s":"t"},{"x":170.97,"y":645,"c":"env","s":"t"},{"x":170.05,"y":665,"c":"env","s":"t"},{"x":169.24,"y":705,"c":"env","s":"t"},{"x":168.67,"y":738,"c":"env","s":"t"},{"x":168.09,"y":720,"c":"env","s":"t"},{"x":167.40,"y":680,"c":"env","s":"t"},{"x":166.71,"y":655,"c":"env","s":"t"},{"x":165.79,"y":644,"c":"env","s":"t"},{"x":165.10,"y":650,"c":"env","s":"t"},{"x":164.41,"y":680,"c":"env","s":"t"},{"x":163.95,"y":708,"c":"env","s":"t"},{"x":163.49,"y":728,"c":"env","s":"t"},{"x":163.03,"y":765,"c":"env","s":"t"},{"x":162.69,"y":798,"c":"env","s":"t"},{"x":162.34,"y":775,"c":"env","s":"t"},{"x":162.11,"y":750,"c":"env","s":"t"},{"x":161.77,"y":768,"c":"env","s":"t"},{"x":161.43,"y":742,"c":"env","s":"t"},{"x":161.08,"y":680,"c":"env","s":"t"},{"x":160.62,"y":635,"c":"env","s":"t"},{"x":160.05,"y":620,"c":"env","s":"t"},{"x":158,"y":615,"c":"env","s":"t"},
{"x":172,"y":635,"c":"orange","s":"t"},{"x":170.39,"y":655,"c":"orange","s":"t"},{"x":169.47,"y":695,"c":"orange","s":"t"},{"x":168.67,"y":738,"c":"orange","s":"t"},{"x":167.86,"y":705,"c":"orange","s":"t"},{"x":166.94,"y":660,"c":"orange","s":"t"},{"x":165.79,"y":637,"c":"orange","s":"t"},{"x":163.49,"y":625,"c":"orange","s":"t"},{"x":158,"y":615,"c":"orange","s":"t"},
{"x":165.56,"y":232,"c":"olive","s":"b"},{"x":164.99,"y":260,"c":"olive","s":"b"},{"x":164.53,"y":280,"c":"olive","s":"b"},{"x":163.95,"y":255,"c":"olive","s":"b"},{"x":163.49,"y":230,"c":"olive","s":"b"},
{"x":164.64,"y":230,"c":"magenta","s":"b"},{"x":163.95,"y":275,"c":"magenta","s":"b"},{"x":163.36,"y":322,"c":"magenta","s":"b"},{"x":162.80,"y":285,"c":"magenta","s":"b"},{"x":162.11,"y":228,"c":"magenta","s":"b"},
{"x":163.49,"y":225,"c":"blue","s":"b"},{"x":162.92,"y":240,"c":"blue","s":"b"},{"x":162.46,"y":258,"c":"blue","s":"b"},{"x":161.89,"y":240,"c":"blue","s":"b"},{"x":161.20,"y":222,"c":"blue","s":"b"},
{"x":172,"y":248,"c":"env","s":"b"},{"x":170.97,"y":265,"c":"env","s":"b"},{"x":170.05,"y":310,"c":"env","s":"b"},{"x":169.47,"y":380,"c":"env","s":"b"},{"x":169.01,"y":440,"c":"env","s":"b"},{"x":168.72,"y":468,"c":"env","s":"b"},{"x":168.32,"y":455,"c":"env","s":"b"},{"x":167.86,"y":400,"c":"env","s":"b"},{"x":167.29,"y":320,"c":"env","s":"b"},{"x":166.71,"y":270,"c":"env","s":"b"},{"x":166.02,"y":245,"c":"env","s":"b"},{"x":165.33,"y":260,"c":"env","s":"b"},{"x":164.76,"y":300,"c":"env","s":"b"},{"x":164.30,"y":305,"c":"env","s":"b"},{"x":163.95,"y":300,"c":"env","s":"b"},{"x":163.49,"y":328,"c":"env","s":"b"},{"x":163.26,"y":340,"c":"env","s":"b"},{"x":162.80,"y":320,"c":"env","s":"b"},{"x":162.34,"y":290,"c":"env","s":"b"},{"x":161.89,"y":265,"c":"env","s":"b"},{"x":161.43,"y":242,"c":"env","s":"b"},{"x":160.62,"y":228,"c":"env","s":"b"},{"x":158,"y":222,"c":"env","s":"b"},
{"x":172,"y":248,"c":"orange","s":"b"},{"x":170.05,"y":310,"c":"orange","s":"b"},{"x":169.47,"y":380,"c":"orange","s":"b"},{"x":169.01,"y":440,"c":"orange","s":"b"},{"x":168.72,"y":468,"c":"orange","s":"b"},{"x":168.32,"y":455,"c":"orange","s":"b"},{"x":167.86,"y":400,"c":"orange","s":"b"},{"x":167.29,"y":320,"c":"orange","s":"b"},{"x":166.37,"y":255,"c":"orange","s":"b"},{"x":165.22,"y":232,"c":"orange","s":"b"},{"x":158,"y":225,"c":"orange","s":"b"}
],
"d_txt":[{"x":171.71,"y":895,"t":"S 2p"},{"x":169.30,"y":795,"t":"Sat."},{"x":166.05,"y":865,"t":"M-S"},{"x":164.59,"y":910,"t":"S 2p"},{"x":161.45,"y":850,"t":"S 2p"},{"x":171.79,"y":560,"t":"Before HER"},{"x":165.22,"y":480,"t":"S 2p"},{"x":166.89,"y":432,"t":"M-S"},{"x":162.14,"y":380,"t":"S 2p"},{"x":169.30,"y":350,"t":"Sat."},{"x":171.77,"y":162,"t":"After\u00a0\u00a0\u00a0\u00a0HER"}],
"d_sub":[{"x":162.86,"y":882,"t":"1/2"},{"x":159.76,"y":818,"t":"3/2"},{"x":163.44,"y":450,"t":"1/2"},{"x":160.41,"y":352,"t":"3/2"}],
"d_arr":[{"x":165.10,"y":825,"x2":163.95,"y2":702},{"x":163.90,"y":882,"x2":162.71,"y2":758},{"x":160.91,"y":810,"x2":161.63,"y2":738},{"x":165.70,"y":412,"x2":164.59,"y2":288},{"x":164.59,"y":450,"x2":163.44,"y2":315},{"x":161.71,"y":350,"x2":162.34,"y2":260}],
"d_head":[{"x":163.95,"y":702,"dir":140.9},{"x":162.71,"y":758,"dir":140.3},{"x":161.63,"y":738,"dir":221.2},{"x":164.59,"y":288,"dir":142.0},{"x":163.44,"y":315,"dir":143.5},{"x":162.34,"y":260,"dir":211.4}]
},
"vconcat":[
{"hconcat":[
{"width":409,"height":309,
"encoding":{"x":{"field":"x","type":"quantitative","scale":{"domain":[10,80],"nice":false,"zero":false},"axis":{"title":"2 Theta (degree)","values":[10,15,20,25,30,35,40,45,50,55,60,65,70,75,80],"labelExpr":"datum.value % 10 == 0 ? datum.label : ''","tickSize":{"condition":{"test":"datum.value % 10 != 0","value":3},"value":5}}},
"y":{"field":"y","type":"quantitative","scale":{"domain":[0,927],"nice":false,"zero":false},"axis":{"title":"Relative Intensity\u00a0\u00a0(a.u.)","labels":false,"ticks":false,"domain":false,"titlePadding":9}}},
"layer":[
{"data":{"name":"xrd"},"mark":{"type":"line","clip":true,"strokeWidth":1.8},"encoding":{"color":{"field":"s","type":"nominal","scale":{"domain":["B","A"],"range":["#e8168b","#a2a2f4"]},"legend":null}}},
{"data":{"name":"bars"},"mark":{"type":"rule","strokeWidth":4,"color":"#23992a"},"encoding":{"y2":{"datum":0}}},
{"data":{"values":[{"x":10.46,"x2":16.17,"y":862,"s":"B"},{"x":10.46,"x2":16.17,"y":792,"s":"A"}]},"mark":{"type":"rule","strokeWidth":2},"encoding":{"x2":{"field":"x2"},"color":{"field":"s","type":"nominal","legend":null}}},
{"data":{"values":[{"x":17.14,"y":862,"s":"B","t":"Before HER"},{"x":17.14,"y":792,"s":"A","t":"After\u00a0\u00a0\u00a0\u00a0HER"}]},"mark":{"type":"text","align":"left","baseline":"middle","fontSize":18.5},"encoding":{"text":{"field":"t"},"color":{"field":"s","type":"nominal","legend":null}}},
{"data":{"values":[{"x":41.6,"y":805,"t":"Ni foam"},{"x":50.0,"y":805,"t":"Ni foam"},{"x":73.0,"y":805,"t":"Ni foam"}]},"mark":{"type":"text","angle":270,"align":"center","baseline":"middle","color":"#f2a23a","fontSize":18.5},"encoding":{"text":{"field":"t"}}},
{"data":{"values":[{"x":64.6,"y":280,"t":"CoNi\u2082S\u2084"},{"x":64.9,"y":220,"t":"JCPDS NO. 24-0334"}]},"mark":{"type":"text","align":"center","baseline":"middle","color":"#23992a","fontSize":18.5},"encoding":{"text":{"field":"t"}}},
{"data":{"values":[{"x":6.37,"y":895,"t":"a"}]},"mark":{"type":"text","align":"center","baseline":"alphabetic","fontSize":34},"encoding":{"text":{"field":"t"}}}
]},
{"width":418,"height":307,
"encoding":{"x":{"field":"x","type":"quantitative","scale":{"domain":[770,810],"reverse":true,"nice":false,"zero":false},"axis":{"title":"Binding energy (eV)","values":[770,775,780,785,790,795,800,805,810],"labelExpr":"datum.value % 10 == 0 ? datum.label : ''","tickSize":{"condition":{"test":"datum.value % 10 != 0","value":3},"value":5}}},
"y":{"field":"y","type":"quantitative","scale":{"domain":[3,925],"nice":false,"zero":false},"axis":{"title":"Intensity (a.u.)","labels":false,"ticks":false,"domain":false,"titlePadding":7}}},
"layer":[
{"data":{"name":"b_pts"},"mark":{"type":"point","shape":"circle","filled":false,"color":"#8d8d8d","strokeWidth":1,"size":55,"opacity":1}},
{"data":{"name":"b_orange"},"mark":{"type":"area","interpolate":"monotone","color":"#f2a83e","opacity":0.88,"line":{"color":"#ef9a22","strokeWidth":1.2}},"encoding":{"y2":{"field":"y2"},"detail":{"field":"s","type":"nominal"}}},
{"data":{"name":"b_mag"},"mark":{"type":"area","interpolate":"monotone","color":"#f033e6","opacity":0.88},"encoding":{"y2":{"field":"y2"},"detail":{"field":"s","type":"nominal"}}},
{"data":{"name":"b_lines"},"mark":{"type":"line","interpolate":"monotone","strokeWidth":2.2},"encoding":{"color":{"field":"c","type":"nominal","scale":{"domain":["bg","blue","pink","purple","env"],"range":["#1f2a88","#2f9bd6","#e2339c","#9a35dc","#23992f"]},"legend":null},"detail":{"field":"s","type":"nominal"}}},
{"data":{"name":"b_arr"},"mark":{"type":"rule","color":"black","strokeWidth":2},"encoding":{"x2":{"field":"x2"},"y2":{"field":"y2"}}},
{"data":{"name":"b_head"},"mark":{"type":"point","shape":"triangle-up","filled":true,"color":"black","size":80,"opacity":1},"encoding":{"angle":{"field":"dir","type":"quantitative","scale":null}}},
{"data":{"name":"b_txt"},"mark":{"type":"text","align":"left","baseline":"middle"},"encoding":{"text":{"field":"t"}}},
{"data":{"name":"b_sup"},"mark":{"type":"text","align":"left","baseline":"middle","fontSize":13},"encoding":{"text":{"field":"t"}}},
{"data":{"name":"b_sub"},"mark":{"type":"text","align":"left","baseline":"middle","fontSize":10},"encoding":{"text":{"field":"t"}}},
{"data":{"values":[{"x":812.27,"y":865,"t":"b"}]},"mark":{"type":"text","align":"center","baseline":"alphabetic","fontSize":34},"encoding":{"text":{"field":"t"}}}
]}
],"spacing":46,"bounds":"flush","resolve":{"scale":{"color":"independent"}}},
{"hconcat":[
{"width":412,"height":296,
"encoding":{"x":{"field":"x","type":"quantitative","scale":{"domain":[844.1,887.1],"reverse":true,"nice":false,"zero":false},"axis":{"title":"Binding energy (eV)","values":[845,850,855,860,865,870,875,880,885],"labelExpr":"datum.value % 10 == 0 ? datum.label : ''","tickSize":{"condition":{"test":"datum.value % 10 != 0","value":3},"value":5}}},
"y":{"field":"y","type":"quantitative","scale":{"domain":[70,958],"nice":false,"zero":false},"axis":{"title":"Intensity (a.u.)","labels":false,"ticks":false,"domain":false,"titlePadding":9}}},
"layer":[
{"data":{"name":"c_pts"},"mark":{"type":"point","shape":"circle","filled":false,"color":"#8d8d8d","strokeWidth":1,"size":55,"opacity":1}},
{"data":{"name":"c_orange"},"mark":{"type":"area","interpolate":"monotone","color":"#f2a83e","opacity":0.88,"line":{"color":"#ef9a22","strokeWidth":1.5}},"encoding":{"y2":{"field":"y2"},"detail":{"field":"s","type":"nominal"}}},
{"data":{"name":"c_mag"},"mark":{"type":"area","interpolate":"monotone","color":"#f033c8","opacity":0.9},"encoding":{"y2":{"field":"y2"}}},
{"data":{"name":"c_lines"},"mark":{"type":"line","interpolate":"monotone","strokeWidth":2.2},"encoding":{"color":{"field":"c","type":"nominal","scale":{"domain":["blue","pinkbase","purple","olive","magenta","env"],"range":["#2fa0d8","#ea2a8c","#9a35dc","#a99a2c","#ea3be2","#23992f"]},"legend":null},"detail":{"field":"s","type":"nominal"}}},
{"data":{"name":"c_arr"},"mark":{"type":"rule","color":"black","strokeWidth":2},"encoding":{"x2":{"field":"x2"},"y2":{"field":"y2"}}},
{"data":{"name":"c_head"},"mark":{"type":"point","shape":"triangle-up","filled":true,"color":"black","size":80,"opacity":1},"encoding":{"angle":{"field":"dir","type":"quantitative","scale":null}}},
{"data":{"name":"c_txt"},"mark":{"type":"text","align":"left","baseline":"middle"},"encoding":{"text":{"field":"t"}}},
{"data":{"name":"c_sup"},"mark":{"type":"text","align":"left","baseline":"middle","fontSize":13},"encoding":{"text":{"field":"t"}}},
{"data":{"name":"c_sub"},"mark":{"type":"text","align":"left","baseline":"middle","fontSize":10},"encoding":{"text":{"field":"t"}}},
{"data":{"values":[{"x":888.59,"y":895,"t":"c"}]},"mark":{"type":"text","align":"center","baseline":"alphabetic","fontSize":34},"encoding":{"text":{"field":"t"}}}
]},
{"width":406,"height":291,
"encoding":{"x":{"field":"x","type":"quantitative","scale":{"domain":[158,172],"reverse":true,"nice":false,"zero":false},"axis":{"title":"Binding energy (eV)","values":[158,159,160,161,162,163,164,165,166,167,168,169,170,171,172],"labelExpr":"datum.value % 2 == 0 ? datum.label : ''","tickSize":{"condition":{"test":"datum.value % 2 != 0","value":3},"value":5}}},
"y":{"field":"y","type":"quantitative","scale":{"domain":[88,960],"nice":false,"zero":false},"axis":{"title":"Intensity (a.u.)","labels":false,"ticks":false,"domain":false,"titlePadding":13}}},
"layer":[
{"data":{"name":"d_pts"},"mark":{"type":"point","shape":"circle","filled":false,"color":"#8d8d8d","strokeWidth":1,"size":55,"opacity":1}},
{"data":{"name":"d_lines"},"mark":{"type":"line","interpolate":"monotone","strokeWidth":2.2},"encoding":{"color":{"field":"c","type":"nominal","scale":{"domain":["olivebase","olive","magenta","blue","env","orange"],"range":["#a99a2c","#a99a2c","#ea3be6","#27a3d6","#23992f","#eda23c"]},"legend":null},"detail":{"field":"s","type":"nominal"}}},
{"data":{"name":"d_arr"},"mark":{"type":"rule","color":"black","strokeWidth":2},"encoding":{"x2":{"field":"x2"},"y2":{"field":"y2"}}},
{"data":{"name":"d_head"},"mark":{"type":"point","shape":"triangle-up","filled":true,"color":"black","size":80,"opacity":1},"encoding":{"angle":{"field":"dir","type":"quantitative","scale":null}}},
{"data":{"name":"d_txt"},"mark":{"type":"text","align":"left","baseline":"middle"},"encoding":{"text":{"field":"t"}}},
{"data":{"name":"d_sub"},"mark":{"type":"text","align":"left","baseline":"middle","fontSize":10},"encoding":{"text":{"field":"t"}}},
{"data":{"values":[{"x":173.15,"y":889,"t":"d"}]},"mark":{"type":"text","align":"center","baseline":"alphabetic","fontSize":34},"encoding":{"text":{"field":"t"}}}
]}
],"spacing":57,"bounds":"flush","resolve":{"scale":{"color":"independent"}}}
],
"spacing":0,"bounds":"full","resolve":{"scale":{"color":"independent"}}
}
